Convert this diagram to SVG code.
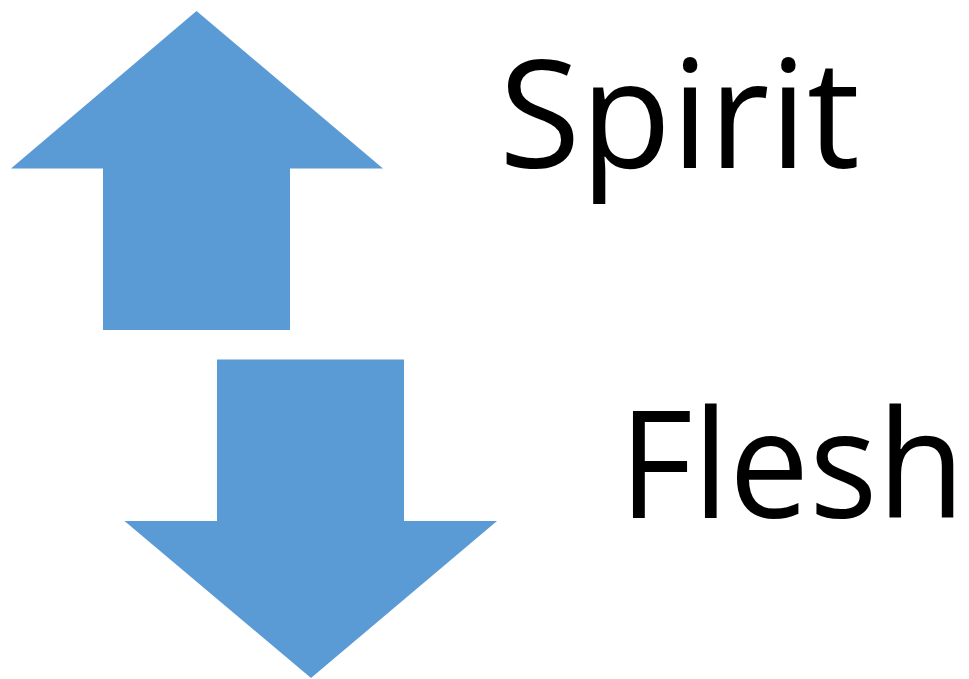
<svg xmlns="http://www.w3.org/2000/svg" width="969" height="679" viewBox="0 0 969 679">
<style>
.arrow{fill:#5B9BD5;stroke:none}
.label{font-family:"Open Sans","Noto Sans","Liberation Sans",sans-serif;font-size:150px;fill:#000}
</style>
<rect width="969" height="679" fill="#fff"/>
<g id="up-arrow"><polygon class="arrow" points="196.5,11 383,168.5 290,168.5 290,330 103,330 103,168.5 11,168.5"/></g>
<g id="down-arrow"><polygon class="arrow" points="217,359.5 404,359.5 404,521 497,521 311,678 124.5,521 217,521"/></g>
<g id="spirit"><text class="label" x="499" y="168" textLength="361" lengthAdjust="spacingAndGlyphs">Spirit</text></g>
<g id="flesh"><text class="label" x="619" y="518" textLength="346" lengthAdjust="spacingAndGlyphs">Flesh</text></g>
<g id="connectors"/>
</svg>
